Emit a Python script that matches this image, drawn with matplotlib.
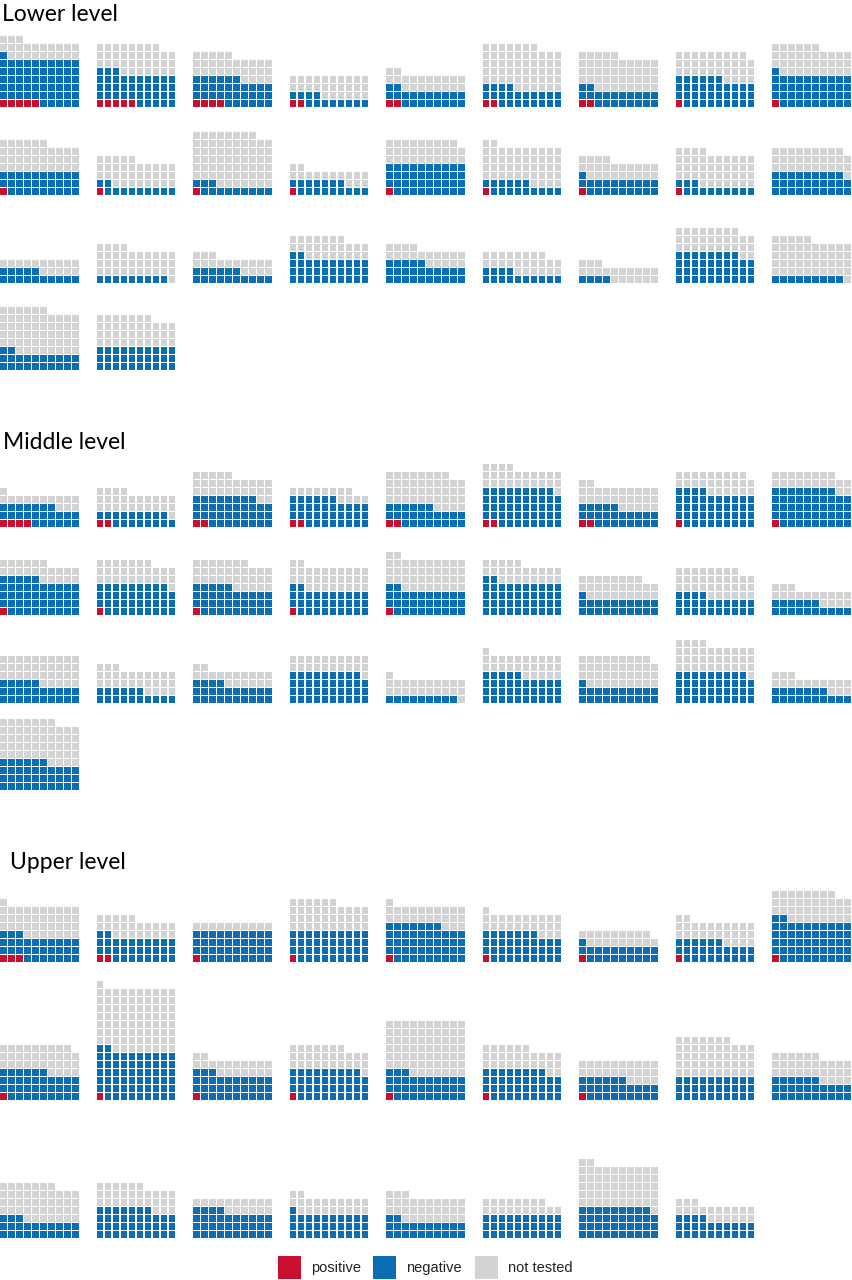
import matplotlib
matplotlib.use('Agg')
import matplotlib.pyplot as plt
from matplotlib.patches import Rectangle
from matplotlib.collections import PatchCollection

# ── Data: counts per site (positive, negative, not tested) ──────────────────
lower_pos = [5, 5, 4, 2, 2, 2, 2, 1, 1,
             1, 1, 1, 1, 1, 1, 1, 1, 0,
             0, 0, 0, 0, 0, 0, 0, 0, 0,
             0, 0]
lower_neg = [56, 38, 32, 12, 20, 22, 20, 35, 40,
             29, 11, 12, 16, 39, 15, 20, 12, 29,
             15, 9, 16, 32, 25, 14, 4, 38, 9,
             22, 30]
lower_nt = [22, 35, 29, 26, 20, 53, 43, 33, 35,
            36, 33, 65, 15, 29, 46, 23, 41, 30,
            15, 35, 17, 25, 19, 24, 19, 30, 46,
            54, 37]

middle_pos = [4, 2, 2, 2, 2, 2, 2, 1, 1,
              1, 1, 1, 1, 1, 0, 0, 0, 0,
              0, 0, 0, 0, 0, 0, 0, 0, 0,
              0]
middle_neg = [23, 17, 36, 34, 24, 47, 23, 43, 47,
              44, 38, 34, 31, 31, 42, 21, 24, 16,
              25, 16, 24, 39, 9, 35, 21, 39, 17,
              36]
middle_nt = [14, 25, 27, 12, 42, 25, 27, 25, 20,
             21, 28, 32, 30, 40, 23, 27, 34, 17,
             35, 27, 18, 21, 22, 26, 38, 35, 16,
             51]

upper_pos = [3, 2, 1, 1, 1, 1, 1, 1, 1,
             1, 1, 1, 1, 1, 1, 1, 0, 0,
             0, 0, 0, 0, 0, 0, 0, 0]
upper_neg = [30, 30, 39, 39, 46, 36, 20, 25, 51,
             35, 61, 32, 38, 32, 37, 25, 30, 26,
             23, 37, 34, 31, 22, 30, 39, 24]
upper_nt = [38, 23, 10, 36, 24, 24, 18, 26, 36,
            33, 79, 19, 28, 67, 28, 24, 47, 30,
            44, 29, 16, 21, 31, 18, 53, 19]

section_titles = ['Lower level', 'Middle level', 'Upper level']
legend_labels = ['positive', 'negative', 'not tested']

# ── Style / layout ──────────────────────────────────────────────────────────
RED = '#c8102e'
BLUE = '#0b6db3'
GREY = '#d3d3d3'
COLORS = [RED, BLUE, GREY]

W, H = 852, 1280
NCOL = 10          # cells per waffle row
PITCH = 8.0        # cell pitch (px)
CELL = 6.7         # cell size (px)
COL_X = [i * 96.5 for i in range(9)]
ROW_BOTTOMS = [[107, 195, 283, 370],
               [527, 615, 703, 790],
               [962, 1100, 1238]]
TITLE_POS = [(2, 21), (3, 449), (10, 869)]

fig = plt.figure(figsize=(W / 100, H / 100), dpi=100)
ax = fig.add_axes([0, 0, 1, 1])
ax.set_xlim(0, W)
ax.set_ylim(H, 0)
ax.axis('off')

patches = {c: [] for c in COLORS}


def waffle(x0, bottom, counts):
    k = 0
    for n, col in zip(counts, COLORS):
        for _ in range(n):
            r, c = divmod(k, NCOL)
            patches[col].append(Rectangle((x0 + c * PITCH, bottom - r * PITCH - CELL),
                                          CELL, CELL))
            k += 1


sections = [(lower_pos, lower_neg, lower_nt),
            (middle_pos, middle_neg, middle_nt),
            (upper_pos, upper_neg, upper_nt)]

for s, (pos, neg, nt) in enumerate(sections):
    tx, ty = TITLE_POS[s]
    ax.text(tx, ty, section_titles[s], fontsize=16.5, family=['Lato', 'DejaVu Sans'],
            color='black', va='baseline', ha='left')
    for i, counts in enumerate(zip(pos, neg, nt)):
        row, col = divmod(i, 9)
        waffle(COL_X[col], ROW_BOTTOMS[s][row], counts)

for col, plist in patches.items():
    ax.add_collection(PatchCollection(plist, facecolor=col, edgecolor='none'))

# ── Legend ──────────────────────────────────────────────────────────────────
leg_x = [278, 373, 475]
for x, lab, col in zip(leg_x, legend_labels, COLORS):
    ax.add_patch(Rectangle((x, 1256), 23, 23, facecolor=col, edgecolor='none'))
    ax.text(x + 33, 1268, lab, fontsize=10.5, family=['Liberation Sans', 'DejaVu Sans'],
            va='center', ha='left', color='#222222')

fig.savefig('out.png', dpi=100, facecolor='white')
